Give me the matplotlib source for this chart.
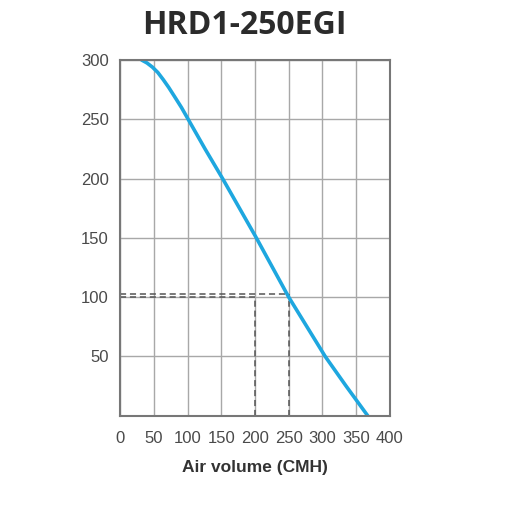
import matplotlib
matplotlib.use("Agg")
import matplotlib.pyplot as plt

# Fan curve
air_volume = [32, 40, 48, 56, 64, 72, 81, 91, 101, 126, 152, 177, 202, 226, 250, 277, 304, 335, 367]
pressure = [300, 297.5, 294, 289.5, 283.5, 277, 269, 260, 250, 225, 200, 175, 150, 125, 100, 75, 50, 25, 0]

# Operating points marked with dashed lines
op_flow = [200, 250]
op_pressure = [100, 103]

x_ticks = [0, 50, 100, 150, 200, 250, 300, 350, 400]
y_ticks = [50, 100, 150, 200, 250, 300]

fig = plt.figure(figsize=(5.12, 5.12), dpi=100)
ax = fig.add_axes([0.2344, 0.188, 0.5273, 0.6948])

ax.set_xlim(0, 400)
ax.set_ylim(0, 300)
ax.set_xticks(x_ticks)
ax.set_yticks(y_ticks)
ax.grid(True, color="#a8a8a8", linewidth=1.0)
ax.set_axisbelow(True)
ax.tick_params(length=0, labelsize=12, labelcolor="#4a4a4a")
ax.tick_params(axis="x", pad=11)
ax.tick_params(axis="y", pad=8)
for lab in ax.get_xticklabels() + ax.get_yticklabels():
    lab.set_family("Liberation Sans")
for sp in ax.spines.values():
    sp.set_color("#777777")
    sp.set_linewidth(1.5)

# dashed guides
for f, p in zip(op_flow, op_pressure):
    ax.plot([0, f], [p, p], color="#555555", linestyle="--", linewidth=1.1, dashes=(4, 2.5))
    ax.plot([f, f], [0, p], color="#555555", linestyle="--", linewidth=1.1, dashes=(4, 2.5))

ax.plot(air_volume, pressure, color="#1ea7df", linewidth=2.6,
        solid_capstyle="round", solid_joinstyle="round")

ax.set_xlabel("Air volume (CMH)", family="Liberation Sans", fontweight="bold",
              fontsize=12.5, color="#333333", labelpad=10)
fig.text(0.478, 0.951, "HRD1-250EGI", family="Open Sans", fontweight="bold",
         fontsize=23, color="#2b2b2b", ha="center", va="center")

fig.savefig("out.png", dpi=100)
